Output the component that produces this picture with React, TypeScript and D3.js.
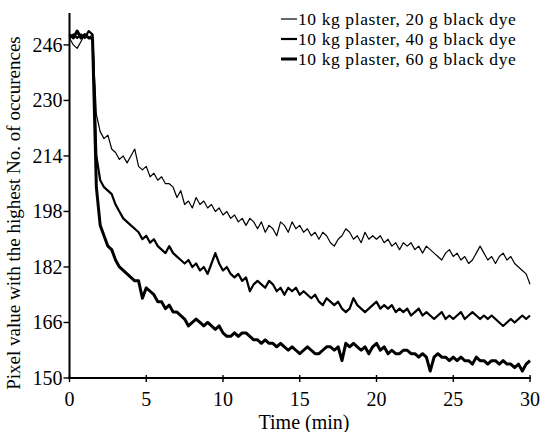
import * as d3 from "d3";

// sampling grid (min)
const times = d3.range(0, 30.001, 0.25);

// 10 kg plaster, 20 g black dye
const dye20 = [
  248, 246, 245, 247, 249, 248, 249,
  226, 221, 219, 220, 216, 215, 213, 214,
  212, 214, 216, 211, 210, 211, 208, 209,
  207, 208, 206, 206, 205, 202, 204, 200,
  201, 199, 202, 200, 201, 199, 200, 198,
  199, 197, 198, 196, 197, 195, 196, 194,
  196, 195, 193, 195, 192, 194, 193, 191,
  195, 194, 192, 195, 193, 194, 192, 193,
  191, 192, 190, 192, 191, 189, 188, 190,
  191, 193, 192, 190, 191, 189, 192, 190,
  191, 190, 191, 189, 190, 188, 189, 187,
  189, 188, 189, 187, 188, 186, 188, 187,
  186, 185, 184, 186, 187, 185, 186, 184,
  185, 183, 184, 186, 188, 186, 184, 185,
  183, 185, 186, 184, 185, 183, 182, 181,
  180, 177,
];

// 10 kg plaster, 40 g black dye
const dye40 = [
  248, 249, 248, 249, 248, 250, 249,
  214, 207, 205, 204, 203, 200, 198, 196,
  195, 194, 193, 192, 190, 191, 189, 190,
  188, 187, 186, 188, 186, 185, 184, 183,
  184, 182, 183, 181, 182, 180, 183, 186,
  183, 181, 182, 180, 179, 180, 178, 179,
  175, 177, 178, 177, 176, 178, 177, 175,
  176, 174, 176, 175, 176, 174, 175, 174,
  173, 174, 172, 171, 173, 172, 171, 172,
  170, 169, 170, 173, 171, 170, 169, 170,
  171, 172, 170, 171, 170, 171, 169, 170,
  169, 170, 168, 169, 170, 168, 169, 168,
  167, 168, 169, 167, 168, 167, 168, 169,
  167, 168, 169, 168, 167, 168, 167, 168,
  167, 166, 165, 166, 167, 166, 167, 168,
  167, 168,
];

// 10 kg plaster, 60 g black dye
const dye60 = [
  249, 248, 250, 248, 249, 248, 248,
  205, 194, 191, 188, 187, 184, 182, 181,
  180, 179, 178, 178, 173, 176, 175, 174,
  172, 172, 170, 171, 169, 169, 168, 167,
  165, 166, 167, 166, 165, 166, 165, 164,
  165, 163, 162, 162, 163, 162, 163, 163,
  162, 161, 161, 160, 161, 160, 160, 159,
  160, 159, 158, 159, 158, 157, 158, 159,
  158, 157, 157, 158, 159, 159, 158, 159,
  155, 160, 159, 160, 159, 158, 159, 157,
  159, 160, 158, 159, 157, 158, 157, 157,
  158, 158, 157, 157, 156, 157, 156, 152,
  156, 157, 156, 156, 155, 156, 155, 156,
  155, 155, 154, 156, 155, 155, 154, 155,
  155, 154, 155, 154, 154, 153, 154, 152,
  154, 155,
];

const xTicks = [0, 5, 10, 15, 20, 25, 30];
const yTicks = [150, 166, 182, 198, 214, 230, 246];
const legendLabels = [
  "10 kg plaster, 20 g black dye",
  "10 kg plaster, 40 g black dye",
  "10 kg plaster, 60 g black dye",
];

const font = "'Liberation Serif', 'Times New Roman', serif";

export default function App() {
  const x = d3.scaleLinear().domain([0, 30]).range([69.5, 530]);
  const y = d3.scaleLinear().domain([150, 255.2]).range([378, 13]);

  const series = [
    { vals: dye20, w: 1.2 },
    { vals: dye40, w: 2.2 },
    { vals: dye60, w: 3 },
  ];

  const line = d3
    .line<number>()
    .x((d, i) => x(times[i]))
    .y((d) => y(d));

  return (
    <svg
      width={540}
      height={432}
      style={{ position: "absolute", left: 0, top: 0, background: "#fff" }}
      fontFamily={font}
    >
      {/* data */}
      {series.map((s, i) => (
        <path
          key={i}
          d={line(s.vals) || ""}
          fill="none"
          stroke="#000"
          strokeWidth={s.w}
          strokeLinejoin="round"
        />
      ))}

      {/* axes */}
      <line x1={x(0)} x2={x(0)} y1={y(255.2)} y2={y(150) + 1} stroke="#000" strokeWidth={2} />
      <line x1={x(0) - 1} x2={x(30) + 1} y1={y(150)} y2={y(150)} stroke="#000" strokeWidth={2} />

      {yTicks.map((t) => (
        <g key={t}>
          <line x1={x(0) - 6} x2={x(0)} y1={y(t)} y2={y(t)} stroke="#000" strokeWidth={1.4} />
          <text x={x(0) - 7} y={y(t)} dy="0.35em" textAnchor="end" fontSize={20}>
            {t}
          </text>
        </g>
      ))}

      {xTicks.map((t) => (
        <g key={t}>
          <line x1={x(t)} x2={x(t)} y1={y(150) - 3} y2={y(150) + 4} stroke="#000" strokeWidth={1.4} />
          <text x={x(t)} y={y(150) + 28} textAnchor="middle" fontSize={20}>
            {t}
          </text>
        </g>
      ))}

      <text x={304} y={429} textAnchor="middle" fontSize={20}>
        Time (min)
      </text>
      <text
        transform={`translate(20,213) rotate(-90)`}
        textAnchor="middle"
        fontSize={19}
      >
        Pixel value with the highest No. of occurences
      </text>

      {/* legend */}
      {legendLabels.map((lab, i) => (
        <g key={lab} transform={`translate(0,${19 + i * 20})`}>
          <line x1={281} x2={297} y1={0} y2={0} stroke="#000" strokeWidth={series[i].w} />
          <text x={298} y={0} dy="0.33em" fontSize={17.5} letterSpacing={0.6}>
            {lab}
          </text>
        </g>
      ))}
    </svg>
  );
}
